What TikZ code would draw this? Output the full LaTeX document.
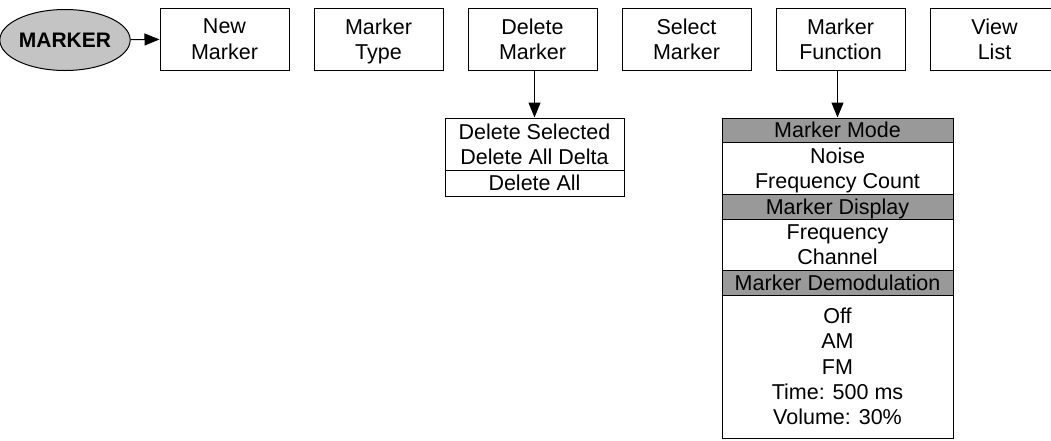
\documentclass[tikz,border=0pt]{standalone}
\usepackage{fontspec}
\setmainfont{Liberation Sans}
\usetikzlibrary{arrows.meta,shapes.geometric}
\definecolor{hdrgray}{HTML}{999999}
\definecolor{ellgray}{HTML}{C4C4C4}
\tikzset{
  txt/.style={font=\fontsize{21.5}{25.3}\selectfont, align=center,
              execute at begin node={\rule{0pt}{15.4pt}}, text depth=0pt},
  menubox/.style={txt, draw, line width=1pt, inner sep=0pt, minimum width=129pt, minimum height=62pt},
  cell/.style={txt, draw, line width=1pt, inner sep=0pt, fill=white},
  hdr/.style={cell, fill=hdrgray},
  arr/.style={line width=1pt, -{Triangle[length=15pt,width=12pt]}},
}
\begin{document}
\begin{tikzpicture}[x=1pt,y=-1pt]
\clip (0,0) rectangle (1051,440);
\fill[white] (0,0) rectangle (1051,440);
% root
\node[ellipse, draw, line width=1pt, fill=ellgray, minimum width=114pt, minimum height=61pt, inner sep=0pt,
      font=\fontsize{21}{25}\selectfont\bfseries] (root) at (65,40) {MARKER};
% top menu
\node[menubox] (nm) at (224.5,39) {New\\Marker};
\node[menubox] (mt) at (378.5,39) {Marker\\Type};
\node[menubox] (dm) at (532.5,39) {Delete\\Marker};
\node[menubox] (sm) at (686.5,39) {Select\\Marker};
\node[menubox] (mf) at (840.5,39) {Marker\\Function};
\node[menubox] (vl) at (994.5,39) {View\\List};
\draw[arr] (root) -- (nm);
% delete list
\node[cell, minimum width=179pt, minimum height=52pt] (d1) at (534.5,144) {Delete Selected\\Delete All Delta};
\node[cell, minimum width=179pt, minimum height=26pt] (d2) at (534.5,183) {Delete All};
\draw[arr] (dm.south -| d1.north) -- (d1.north);
% function list
\node[hdr, minimum width=231pt, minimum height=24pt] (h1) at (837.5,130) {Marker Mode};
\node[cell, minimum width=231pt, minimum height=52pt] (w1) at (837.5,168) {Noise\\Frequency Count};
\node[hdr, minimum width=231pt, minimum height=25pt] (h2) at (837.5,206.5) {Marker Display};
\node[cell, minimum width=231pt, minimum height=51pt] (w2) at (837.5,244.5) {Frequency\\Channel};
\node[hdr, minimum width=231pt, minimum height=25pt] (h3) at (837.5,282.5) {Marker Demodulation};
\node[cell, minimum width=231pt, minimum height=143pt] (w3) at (837.5,366.5) {Off\\AM\\FM\\Time: 500 ms\\Volume: 30\%};
\draw[arr] (mf.south -| h1.north) -- (h1.north);
\end{tikzpicture}
\end{document}
